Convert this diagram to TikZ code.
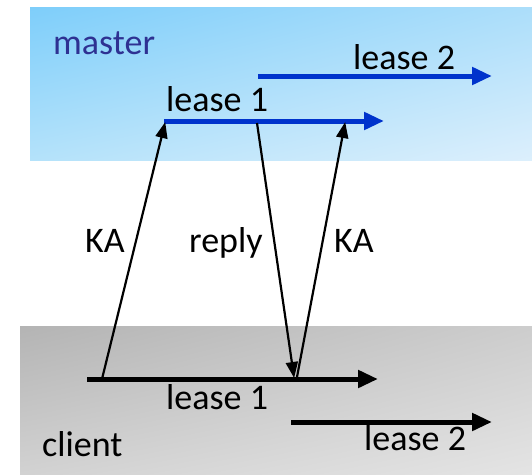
\documentclass[tikz,border=0pt]{standalone}
\usepackage{fontspec}
\setmainfont{Carlito}
\usetikzlibrary{arrows.meta,shadings}
\definecolor{leaseblue}{RGB}{0,51,204}
\definecolor{mastertxt}{RGB}{46,49,146}
\definecolor{mUL}{RGB}{126,206,250}
\definecolor{mUR}{RGB}{172,222,250}
\definecolor{mLL}{RGB}{180,226,250}
\definecolor{mLR}{RGB}{220,239,252}
\definecolor{cUL}{RGB}{180,180,180}
\definecolor{cUR}{RGB}{205,205,205}
\definecolor{cLL}{RGB}{210,210,210}
\definecolor{cLR}{RGB}{228,228,228}
\tikzset{
  lbl/.style={anchor=base west, inner sep=0pt, font=\fontsize{36}{43}\selectfont},
  thickarrow/.style={line width=5pt, -{Triangle[length=20pt,width=17pt]}},
  msg/.style={line width=2.2pt, -{Triangle[length=16pt,width=12pt]}, shorten >=-1pt},
}
\begin{document}
\begin{tikzpicture}[x=1pt,y=-1pt]
\useasboundingbox (0,0) rectangle (532,474);
% master region
\shade[upper left=mUL, upper right=mUR, lower left=mLL, lower right=mLR]
  (30,7) rectangle (532,160);
% client region
\shade[upper left=cUL, upper right=cUR, lower left=cLL, lower right=cLR]
  (20,326) rectangle (532,474);
\node[lbl, text=mastertxt] (master) at (53,54) {master};
\node[lbl] (client) at (42,456) {client};
% master leases
\coordinate (m1s) at (164,121); \coordinate (m1e) at (384,121);
\coordinate (m2s) at (258,76);  \coordinate (m2e) at (492,76);
\draw[thickarrow, leaseblue] (m1s) -- (m1e);
\draw[thickarrow, leaseblue] (m2s) -- (m2e);
\node[lbl] (ml1) at (166,111) {lease 1};
\node[lbl] (ml2) at (353,69) {lease 2};
% client leases
\coordinate (c1s) at (87,379); \coordinate (c1e) at (378,379);
\coordinate (c2s) at (291,422); \coordinate (c2e) at (492,422);
\draw[thickarrow] (c1s) -- (c1e);
\draw[thickarrow] (c2s) -- (c2e);
\node[lbl] (cl1) at (166,409) {lease 1};
\node[lbl] (cl2) at (364,450) {lease 2};
% messages
\coordinate (ka1s) at (102,379); \coordinate (ka1e) at (165,123);
\coordinate (rps) at (257,123);  \coordinate (rpe) at (294,377);
\coordinate (ka2s) at (297,377); \coordinate (ka2e) at (345,123);
\draw[msg] (ka1s) -- (ka1e);
\draw[msg] (rps) -- (rpe);
\draw[msg] (ka2s) -- (ka2e);
\node[lbl] (ka1) at (85,252) {KA};
\node[lbl] (reply) at (189,252) {reply};
\node[lbl] (ka2) at (334,252) {KA};
\end{tikzpicture}
\end{document}
